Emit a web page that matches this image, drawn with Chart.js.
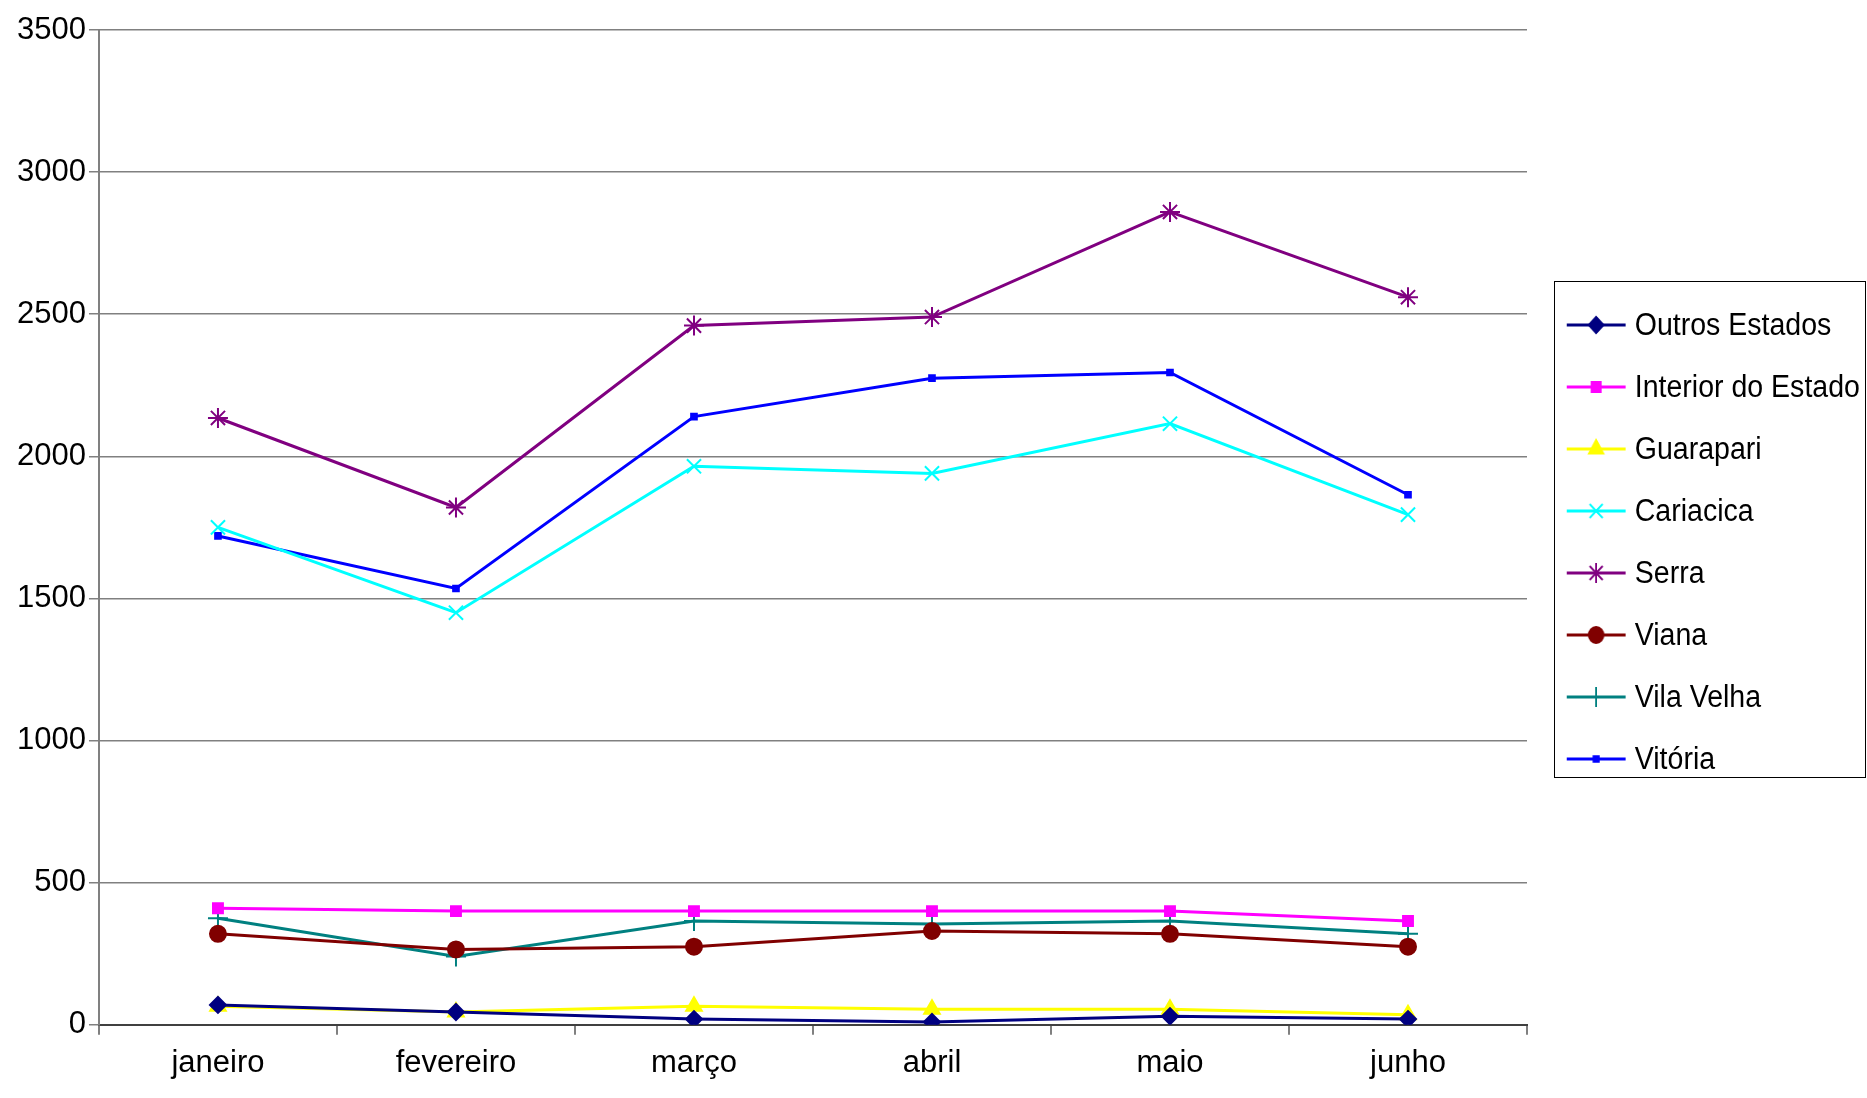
<!DOCTYPE html>
<html><head><meta charset="utf-8">
<script src="https://cdn.jsdelivr.net/npm/chart.js@4/dist/chart.umd.min.js"></script>
<style>
body{margin:0;background:#fff;font-family:'Liberation Sans',sans-serif}
#wrap{position:relative;width:1867px;height:1098px}
#legend{position:absolute;left:1554px;top:281px;width:312px;height:497px;border:1.5px solid #000;box-sizing:border-box;padding:12px 0 0 8px;overflow:hidden}
.item{display:flex;align-items:center;height:62px;font-size:31px;color:#000;white-space:nowrap;transform:scaleX(0.92);transform-origin:left}
.item canvas{margin-right:6px}
</style>
</head><body>
<div id="wrap">
<canvas id="chart" width="1867" height="1098"></canvas>
<div id="legend"></div>
</div>
<script>
// Data
const months = ['janeiro','fevereiro','março','abril','maio','junho'];
const outros = [70,45,20,10,30,20];
const interior = [410,400,400,400,400,365];
const guarapari = [65,45,65,55,55,35];
const cariacica = [1750,1450,1965,1940,2115,1795];
const serra = [2135,1820,2460,2490,2860,2560];
const viana = [320,265,275,330,320,275];
const vilaVelha = [375,240,365,355,365,320];
const vitoria = [1720,1535,2140,2275,2295,1865];

function ds(label, data, color, style, r){
  return { label, data, borderColor:color, backgroundColor:color, pointStyle:style,
    pointRadius:r, pointBorderWidth:2, borderWidth:3, tension:0 };
}
const font = { family:'Liberation Sans', size:31 };

const chart = new Chart(document.getElementById('chart').getContext('2d'), {
  type:'line',
  data:{ labels:months, datasets:[
    ds('Outros Estados', outros, '#000080', 'rectRot', 8),
    ds('Interior do Estado', interior, '#ff00ff', 'rect', 7),
    ds('Guarapari', guarapari, '#ffff00', 'triangle', 9),
    ds('Cariacica', cariacica, '#00ffff', 'crossRot', 10),
    ds('Serra', serra, '#800080', 'star', 10),
    ds('Viana', viana, '#800000', 'circle', 8),
    ds('Vila Velha', vilaVelha, '#008080', 'cross', 10),
    ds('Vitória', vitoria, '#0000ff', 'rect', 4)
  ]},
  options:{
    responsive:false, animation:false,
    layout:{ padding:{ top:30, right:340, bottom:6, left:14 } },
    plugins:{ legend:{ display:false }, tooltip:{ enabled:false } },
    scales:{
      x:{ offset:true,
        grid:{ offset:true, drawOnChartArea:false, drawTicks:true, tickLength:10, color:'#808080', lineWidth:2 },
        border:{ color:'#404040', width:2 },
        ticks:{ color:'#000', font, padding:10 } },
      y:{ min:0, max:3500,
        grid:{ color:'#808080', lineWidth:1.5, tickLength:10 },
        border:{ color:'#808080', width:2 },
        ticks:{ stepSize:500, color:'#000', font, callback:v=>String(v) } }
    }
  }
});

// HTML legend with line + marker drawn via Chart's point helper
const leg = document.getElementById('legend');
chart.data.datasets.forEach(d=>{
  const it = document.createElement('div'); it.className='item';
  const c = document.createElement('canvas'); c.width=72; c.height=40;
  const x = c.getContext('2d');
  x.strokeStyle=d.borderColor; x.lineWidth=3;
  x.beginPath(); x.moveTo(4,20); x.lineTo(68,20); x.stroke();
  x.fillStyle=d.backgroundColor; x.lineWidth=2;
  Chart.helpers.drawPoint(x, { pointStyle:d.pointStyle, radius:d.pointRadius, borderWidth:2 }, 36, 20);
  it.appendChild(c);
  it.appendChild(document.createTextNode(d.label));
  leg.appendChild(it);
});
</script>
</body></html>
